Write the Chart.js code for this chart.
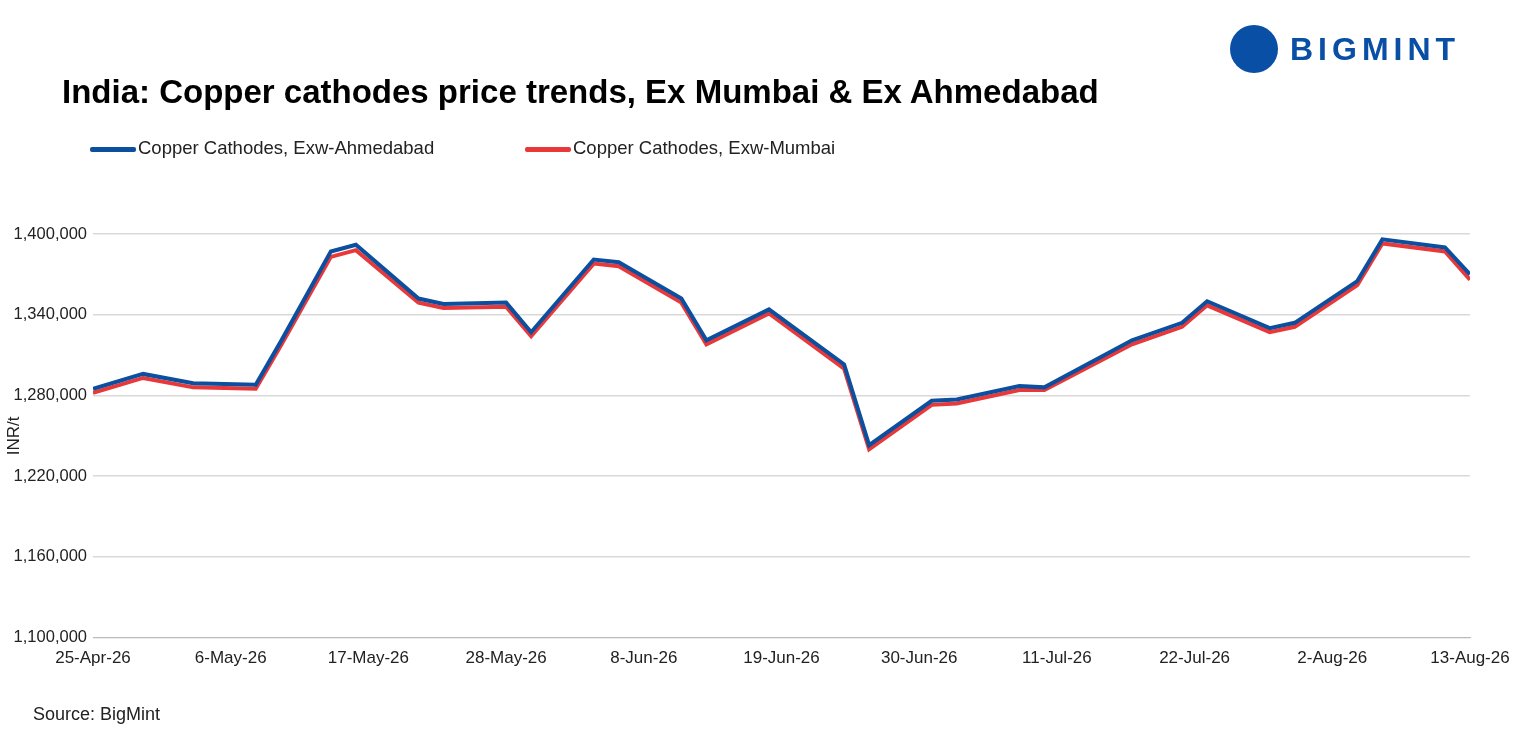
<!DOCTYPE html>
<html>
<head>
<meta charset="utf-8">
<script src="https://cdn.jsdelivr.net/npm/chart.js@4"></script>
<style>
  body { margin: 0; background: #fff; font-family: "Liberation Sans", Arial, sans-serif; }
  #wrap { position: relative; width: 1528px; height: 750px; }
  #title { position: absolute; left: 62px; top: 73px; font-size: 33px; font-weight: bold; color: #000; }
  #legend { position: absolute; left: 90px; top: 137px; font-size: 18.5px; color: #222; }
  #legend span { position: absolute; white-space: nowrap; }
  .sw { display: inline-block; width: 46px; height: 5px; vertical-align: middle; margin-right: 2px; border-radius: 2px; }
  #source { position: absolute; left: 33px; top: 704px; font-size: 18px; color: #222; }
  #logo { position: absolute; left: 1230px; top: 24px; height: 50px; display: flex; align-items: center; }
  #logo .c { width: 48px; height: 48px; border-radius: 50%; background: #0a4fa6; margin-right: 12px; }
  #logo .t { font-size: 32px; font-weight: bold; color: #0a4fa6; letter-spacing: 5px; }
  canvas { position: absolute; left: 0; top: 0; }
</style>
</head>
<body>
<div id="wrap">
  <canvas id="chart" width="1528" height="750"></canvas>
  <div id="logo"><div class="c"></div><div class="t">BIGMINT</div></div>
  <div id="title">India: Copper cathodes price trends, Ex Mumbai &amp; Ex Ahmedabad</div>
  <div id="legend">
    <span style="left:0"><i class="sw" style="background:#0b4f9e"></i>Copper Cathodes, Exw-Ahmedabad</span>
    <span style="left:435px"><i class="sw" style="background:#e8383a"></i>Copper Cathodes, Exw-Mumbai</span>
  </div>
  <div id="source">Source: BigMint</div>
</div>
<script>
const startDate = '2026-04-25';
const tickLabels = ['25-Apr-26','6-May-26','17-May-26','28-May-26','8-Jun-26','19-Jun-26','30-Jun-26','11-Jul-26','22-Jul-26','2-Aug-26','13-Aug-26'];
const dates = ['2026-04-25','2026-04-29','2026-05-03','2026-05-08','2026-05-10','2026-05-14','2026-05-16',
  '2026-05-21','2026-05-23','2026-05-28','2026-05-30','2026-06-04','2026-06-06','2026-06-11','2026-06-13',
  '2026-06-18','2026-06-24','2026-06-26','2026-07-01','2026-07-03','2026-07-08','2026-07-10','2026-07-17',
  '2026-07-21','2026-07-23','2026-07-28','2026-07-30','2026-08-04','2026-08-06','2026-08-11','2026-08-13'];
const ahmedabad = [1285000,1296000,1289000,1288000,1320000,1387000,1392000,
  1352000,1348000,1349000,1327000,1381000,1379000,1352000,1321000,
  1344000,1303000,1243000,1276000,1277000,1287000,1286000,1321000,
  1334000,1350000,1330000,1334000,1365000,1396000,1390000,1370000];
const mumbai = [1282000,1293000,1286000,1285000,1317000,1383000,1388000,
  1349000,1345000,1346000,1324000,1378000,1376000,1349000,1318000,
  1341000,1300000,1240000,1273000,1274000,1284000,1284000,1318000,
  1331000,1347000,1327000,1331000,1362000,1393000,1387000,1366000];

const dayIndex = d => Math.round((new Date(d) - new Date(startDate)) / 86400000);
const pts = arr => dates.map((d, i) => ({ x: dayIndex(d), y: arr[i] }));

new Chart(document.getElementById('chart'), {
  type: 'line',
  data: {
    datasets: [
      { label: 'Copper Cathodes, Exw-Ahmedabad', data: pts(ahmedabad), borderColor: '#0b4f9e', borderWidth: 4, pointRadius: 0, tension: 0 },
      { label: 'Copper Cathodes, Exw-Mumbai', data: pts(mumbai), borderColor: '#e8383a', borderWidth: 4, pointRadius: 0, tension: 0 }
    ]
  },
  options: {
    responsive: false,
    animation: false,
    layout: { padding: { top: 234, left: 0, right: 58, bottom: 78 } },
    plugins: { legend: { display: false }, tooltip: { enabled: false } },
    scales: {
      x: {
        type: 'linear', min: 0, max: 110,
        grid: { display: false },
        border: { color: '#bbb' },
        ticks: {
          stepSize: 11, maxRotation: 0, autoSkip: false,
          color: '#222', font: { family: 'Liberation Sans', size: 17 },
          callback: v => tickLabels[v / 11]
        }
      },
      y: {
        min: 1100000, max: 1400000,
        border: { display: false },
        grid: { color: '#d9d9d9', lineWidth: 1.5, drawTicks: false },
        afterFit: s => { s.width = 93; },
        title: { display: true, text: 'INR/t', color: '#222', font: { family: 'Liberation Sans', size: 17 } },
        ticks: {
          stepSize: 60000, color: '#222', padding: 6,
          font: { family: 'Liberation Sans', size: 16.5 },
          callback: v => v.toLocaleString('en-US')
        }
      }
    }
  }
});
</script>
</body>
</html>
